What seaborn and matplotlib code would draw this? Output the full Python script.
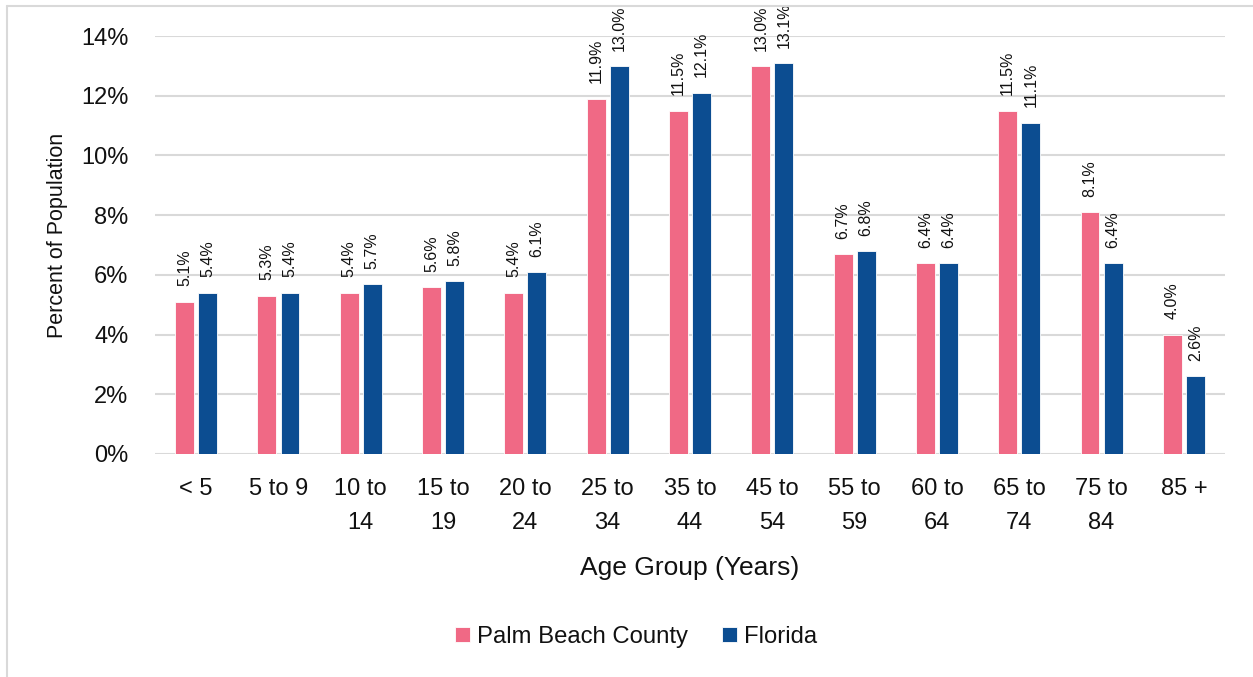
import pandas as pd
import seaborn as sns
import matplotlib.pyplot as plt
from matplotlib.lines import Line2D
from matplotlib.ticker import FuncFormatter

# Data
age_groups = ['< 5', '5 to 9', '10 to\n14', '15 to\n19', '20 to\n24', '25 to\n34',
              '35 to\n44', '45 to\n54', '55 to\n59', '60 to\n64', '65 to\n74',
              '75 to\n84', '85 +']
palm_beach = [5.1, 5.3, 5.4, 5.6, 5.4, 11.9, 11.5, 13.0, 6.7, 6.4, 11.5, 8.1, 4.0]
florida = [5.4, 5.4, 5.7, 5.8, 6.1, 13.0, 12.1, 13.1, 6.8, 6.4, 11.1, 6.4, 2.6]
series = ['Palm Beach County', 'Florida']
colors = ['#F06985', '#0C4D91']

df = pd.DataFrame({
    'age': age_groups * 2,
    'value': palm_beach + florida,
    'area': [series[0]] * len(age_groups) + [series[1]] * len(age_groups),
})

sns.set_style('white')
plt.rcParams['font.family'] = ['Liberation Sans', 'DejaVu Sans']

W, H = 1253, 677
fig = plt.figure(figsize=(W / 100, H / 100), dpi=100)
# plot area: x 155..1225, y 36..454 (pixels)
ax = fig.add_axes([155 / W, 1 - 454 / H, 1070 / W, 418 / H])

sns.barplot(data=df, x='age', y='value', hue='area', order=age_groups,
            hue_order=series, palette=colors, saturation=1, width=0.56, gap=0.18,
            edgecolor='white', linewidth=0.6, ax=ax, legend=True)

# Rotated value labels above each bar
for cont in ax.containers:
    ax.bar_label(cont, labels=[f'{v:.1f}%' for v in cont.datavalues],
                 rotation=90, padding=11, fontsize=11.5, color='#111111')

ax.set_ylim(0, 14)
ax.set_xlim(-0.5, len(age_groups) - 0.5)
ax.set_yticks(range(0, 15, 2))
ax.yaxis.set_major_formatter(FuncFormatter(lambda v, p: f'{v:.0f}%'))
ax.grid(axis='y', color='#D9D9D9', linewidth=1.5)
ax.set_axisbelow(True)
for s in ax.spines.values():
    s.set_visible(False)
ax.tick_params(axis='both', length=0, labelsize=17, colors='#111111')
ax.tick_params(axis='x', pad=17)
ax.tick_params(axis='y', pad=19)
for t in ax.get_xticklabels():
    t.set_linespacing(1.72)
    t.set_verticalalignment('top')

ax.set_xlabel('Age Group (Years)', fontsize=19, color='#111111')
ax.xaxis.set_label_coords(0.5, (454 - 568) / 418)
ax.xaxis.label.set_verticalalignment('center')
ax.set_ylabel('Percent of Population', fontsize=15.5, color='#111111')
ax.yaxis.set_label_coords((58 - 155) / 1070, (454 - 235) / 418)
ax.yaxis.label.set_verticalalignment('center')

ax.legend_.remove()
fig.legend(loc='center', bbox_to_anchor=(636 / W, 1 - 637 / H), ncol=2,
           frameon=False, fontsize=17.2, handlelength=0.63, handleheight=0.63,
           handletextpad=0.29, columnspacing=1.42, labelcolor='#111111')

# light frame lines on the left and top edge
fig.add_artist(Line2D([7 / W, 7 / W], [0, 1 - 6 / H], color='#D9D9D9',
                      linewidth=1.5, transform=fig.transFigure))
fig.add_artist(Line2D([7 / W, 1], [1 - 6 / H, 1 - 6 / H], color='#D9D9D9',
                      linewidth=1.5, transform=fig.transFigure))

fig.savefig('out.png', dpi=100)
